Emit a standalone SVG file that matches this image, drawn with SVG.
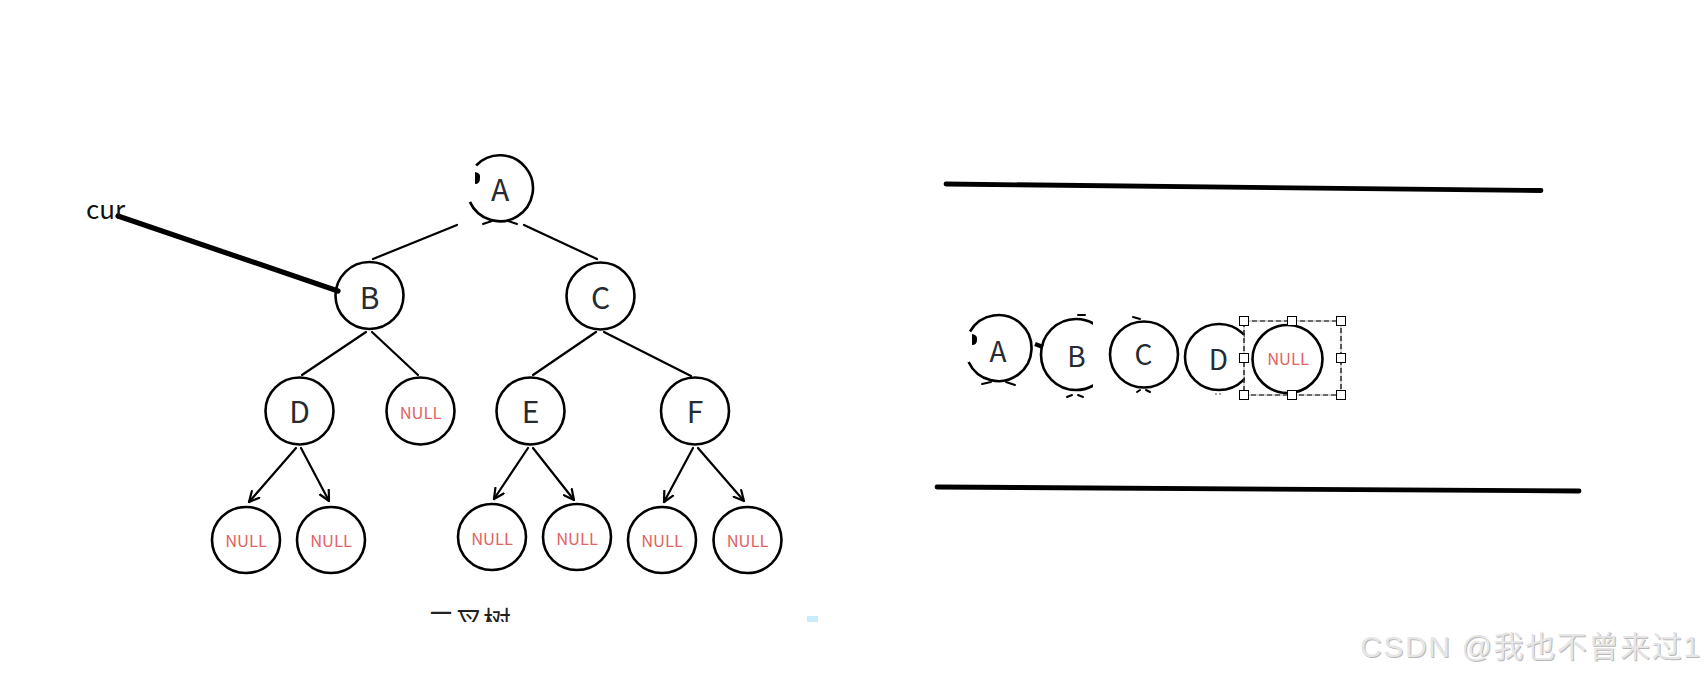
<svg xmlns="http://www.w3.org/2000/svg" width="1708" height="681" viewBox="0 0 1708 681">
<style>
.c{fill:none;stroke:#000;stroke-width:2.6}
.e{fill:none;stroke:#000;stroke-width:2.2;stroke-linecap:round}
.t{font-family:"Noto Sans CJK SC","Noto Sans",sans-serif;fill:#262a31;text-anchor:middle}
.L{font-size:30px}
.Ls{font-size:28px}
.n{font-family:"Noto Sans CJK SC","Noto Sans",sans-serif;fill:#e06464;font-size:16.5px;text-anchor:middle}
.k{fill:none;stroke:#000;stroke-width:4.8;stroke-linecap:round}
.h{fill:#fff;stroke:#000;stroke-width:1}
.tk{fill:none;stroke:#000;stroke-width:2;stroke-linecap:round}
</style>
<defs>
<marker id="ar" viewBox="0 0 12 12" refX="11" refY="6" markerWidth="12" markerHeight="12" markerUnits="userSpaceOnUse" orient="auto">
<path d="M1,1 L11,6 L1,11" fill="none" stroke="#000" stroke-width="2.2" stroke-linecap="round" stroke-linejoin="round"/>
</marker>
<clipPath id="cap"><rect x="0" y="0" width="1708" height="622"/></clipPath>
<clipPath id="clipB"><rect x="1000" y="300" width="93" height="110"/></clipPath>
<clipPath id="clipD"><rect x="1170" y="300" width="75" height="110"/></clipPath>
</defs>
<rect width="1708" height="681" fill="#fff"/>

<!-- connectors -->
<g id="connectors">
<line class="e" x1="457" y1="225" x2="373" y2="259"/>
<line class="e" x1="524" y1="225" x2="597" y2="259"/>
<path class="tk" d="M483,224 L492,221 M508,221 L517,224"/>
<line class="e" x1="366" y1="332" x2="302" y2="375"/>
<line class="e" x1="372" y1="332" x2="418" y2="375"/>
<line class="e" x1="596" y1="332" x2="533" y2="375"/>
<line class="e" x1="604" y1="332" x2="691" y2="376"/>
<line class="e" x1="296" y1="448" x2="249" y2="502" marker-end="url(#ar)"/>
<line class="e" x1="301" y1="448" x2="329" y2="501" marker-end="url(#ar)"/>
<line class="e" x1="528" y1="448" x2="494" y2="499" marker-end="url(#ar)"/>
<line class="e" x1="533" y1="448" x2="574" y2="500" marker-end="url(#ar)"/>
<line class="e" x1="693" y1="448" x2="664" y2="502" marker-end="url(#ar)"/>
<line class="e" x1="698" y1="448" x2="744" y2="501" marker-end="url(#ar)"/>
<line x1="118" y1="216" x2="338" y2="291" stroke="#000" stroke-width="5.2" stroke-linecap="round"/>
<line x1="1035" y1="344" x2="1043" y2="347" stroke="#000" stroke-width="4.5"/>
<path class="tk" d="M982,384 L991,382 M1006,382 L1015,385"/>
<path class="tk" d="M1067,397 L1072,395 M1078,395 L1083,397 M1078,315 L1085,315"/>
<path class="tk" d="M1133,317 L1140,319 M1137,392 L1140,390 M1146,390 L1150,392"/>
<line x1="1215" y1="394" x2="1222" y2="394" stroke="#888" stroke-width="1.5" stroke-dasharray="2 2"/>
</g>

<!-- cur label -->
<g id="cur">
<text x="86" y="219" font-family="Noto Sans CJK SC, Noto Sans, sans-serif" font-size="26" fill="#111">cur</text>
</g>

<!-- tree nodes -->
<g id="nA">
<path class="c" d="M469.9,201.9 A33,33 0 1 0 476.1,165.5"/>
<path d="M475,172 Q481,173 480,178 Q480,184 475,184 Z" fill="#000"/>
<text class="t L" x="500" y="201">A</text>
</g>
<g id="nB"><ellipse class="c" cx="369.5" cy="295.5" rx="34" ry="33.5"/><text class="t L" x="369.5" y="309">B</text></g>
<g id="nC"><ellipse class="c" cx="600.5" cy="296" rx="34" ry="33.5"/><text class="t L" x="600.5" y="309">C</text></g>
<g id="nD"><ellipse class="c" cx="299.5" cy="411" rx="34" ry="33.5"/><text class="t L" x="299.5" y="423">D</text></g>
<g id="nBnull"><ellipse class="c" cx="420.5" cy="411" rx="34" ry="33.5"/><text class="n" x="420.5" y="419">NULL</text></g>
<g id="nE"><ellipse class="c" cx="530.5" cy="411" rx="34" ry="33.5"/><text class="t L" x="530.5" y="423">E</text></g>
<g id="nF"><ellipse class="c" cx="695" cy="411" rx="34" ry="33.5"/><text class="t L" x="695" y="423">F</text></g>
<g id="nDl"><ellipse class="c" cx="246" cy="540" rx="34" ry="33"/><text class="n" x="246" y="547">NULL</text></g>
<g id="nDr"><ellipse class="c" cx="331" cy="540" rx="34" ry="33"/><text class="n" x="331" y="547">NULL</text></g>
<g id="nEl"><ellipse class="c" cx="492" cy="537" rx="34" ry="33"/><text class="n" x="492" y="545">NULL</text></g>
<g id="nEr"><ellipse class="c" cx="577" cy="537" rx="34" ry="33"/><text class="n" x="577" y="545">NULL</text></g>
<g id="nFl"><ellipse class="c" cx="662" cy="540" rx="34" ry="33"/><text class="n" x="662" y="547">NULL</text></g>
<g id="nFr"><ellipse class="c" cx="747.5" cy="540" rx="34" ry="33"/><text class="n" x="747.5" y="547">NULL</text></g>

<!-- caption (clipped) -->
<g id="caption" clip-path="url(#cap)">
<text x="427" y="632" font-family="Noto Sans CJK SC, sans-serif" font-size="28" fill="#222">二叉树</text>
</g>
<rect x="807" y="616" width="11" height="6" fill="#c8ecfa"/>

<!-- right side: bars -->
<g id="topbar"><line class="k" x1="946" y1="184" x2="1541" y2="190.5"/></g>
<g id="bottombar"><line class="k" x1="937" y1="487" x2="1579" y2="491"/></g>

<!-- right nodes -->
<g id="rA">
<path class="c" d="M968.6,362 A33,33 0 1 0 970,331.5"/>
<path d="M972,334 Q978,335 977,340 Q977,345 972,345 Z" fill="#000"/>
<text class="t Ls" x="998" y="362">A</text>
</g>
<g id="rB">
<ellipse class="c" cx="1076" cy="354.5" rx="35" ry="35.5" clip-path="url(#clipB)"/>
<text class="t Ls" x="1076.5" y="366.5">B</text>
</g>
<g id="rC"><ellipse class="c" cx="1144" cy="354.5" rx="34" ry="33"/><text class="t Ls" x="1143.5" y="365">C</text></g>
<g id="rD">
<ellipse class="c" cx="1219" cy="357" rx="34" ry="33" clip-path="url(#clipD)"/>
<text class="t Ls" x="1218.5" y="370">D</text>
</g>
<g id="rNull">
<ellipse class="c" cx="1287.5" cy="359" rx="35" ry="34"/>
<text class="n" x="1288" y="365">NULL</text>
</g>
<g id="selection">
<rect x="1244" y="321" width="97" height="74" fill="none" stroke="#aaa" stroke-width="1"/>
<rect x="1244" y="321" width="97" height="74" fill="none" stroke="#000" stroke-width="1.2" stroke-dasharray="5 3"/>
<rect class="h" x="1239.5" y="316.5" width="9" height="9"/>
<rect class="h" x="1287.5" y="316.5" width="9" height="9"/>
<rect class="h" x="1336.5" y="316.5" width="9" height="9"/>
<rect class="h" x="1239.5" y="353.5" width="9" height="9"/>
<rect class="h" x="1336.5" y="353.5" width="9" height="9"/>
<rect class="h" x="1239.5" y="390.5" width="9" height="9"/>
<rect class="h" x="1287.5" y="390.5" width="9" height="9"/>
<rect class="h" x="1336.5" y="390.5" width="9" height="9"/>
</g>

<!-- watermark -->
<g id="watermark" font-family="Liberation Sans, Noto Sans CJK SC, sans-serif" font-size="30">
<text x="1361" y="658" fill="#b8b8b8" textLength="340" lengthAdjust="spacing">CSDN @我也不曾来过1</text>
<text x="1360" y="657" fill="#e6e6e6" textLength="340" lengthAdjust="spacing">CSDN @我也不曾来过1</text>
</g>
</svg>
